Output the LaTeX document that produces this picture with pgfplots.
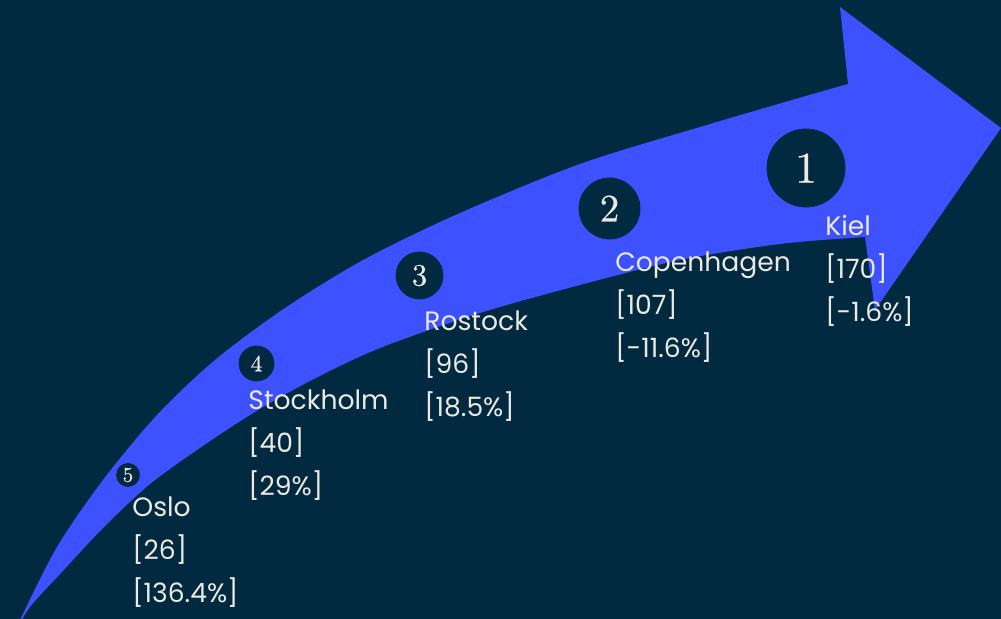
\documentclass[border=0pt]{standalone}
\usepackage{fontspec}
\usepackage{pgfplots}
\pgfplotsset{compat=1.18}
\newfontfamily\pop{Poppins}
\newfontfamily\lmd{lmroman10-regular.otf}[FakeBold=0.4]
\definecolor{bg}{RGB}{1,42,65}
\definecolor{arrowblue}{RGB}{61,81,255}
\definecolor{txt}{RGB}{236,233,226}

% circle centres (pixel coords), radius in pt, digit size
\pgfplotstableread{
x     y     r      fs    rank
128   475   5.75   10.5  5
256.5 363.5 8.75   11.5  4
419.5 275.5 11.75  15.5  3
609.5 208.5 15.25  19.5  2
806   168   19.5   22    1
}\ranks

\begin{document}
\begin{tikzpicture}
\begin{axis}[
  width=500.5pt, height=309.5pt,
  scale only axis,
  hide axis,
  xmin=0, xmax=1001,
  ymin=0, ymax=619,
  y dir=reverse,
]
% background
\addplot[fill=bg, draw=none] coordinates {(0,0)(1001,0)(1001,619)(0,619)};

% arrow body (outer edge, then inner edge back to the tail)
\addplot[fill=arrowblue, draw=none, smooth, tension=0.5] coordinates {
  (14,634)(21,618)(57,547)(103,480)(157,415)(215,360)(285,308)(365,259)
  (460,213)(580,164)(700,127)(848,84)(885,76)
  (895,236)(865,237)(780,244)(680,260)(580,285)(480,313)(380,348)
  (310,381)(250,415)(197,450)(150,484)(105,526)(60,574)(30,607)(14,634)
};
% arrow head
\addplot[fill=arrowblue, draw=none] coordinates {
  (848,84)(840,7)(1001,128)(875,310)(865,237)
};

% rank circles
\addplot[scatter, only marks, mark=*,
  point meta=\thisrow{r},
  visualization depends on={\thisrow{r}\as\rad},
  scatter/use mapped color={draw=bg, fill=bg},
  scatter/@pre marker code/.append style={/tikz/mark size=\rad pt},
] table[x=x, y=y] {\ranks};

% rank numbers
\addplot[only marks, mark=none,
  nodes near coords,
  point meta=explicit symbolic,
  visualization depends on={\thisrow{fs}\as\fsz},
  every node near coord/.style={anchor=center, inner sep=0pt, text=txt,
    font=\lmd\fontsize{\fsz}{\fsz}\selectfont},
] table[x=x, y=y, meta=rank] {\ranks};

% labels
\begin{scope}[every node/.style={anchor=north west, align=left, inner sep=0pt,
    text=txt, font=\pop\fontsize{13.3}{21.5}\selectfont}]
\node at (axis cs:132,496) {Oslo\\{[}26{]}\\{[}136.4\%{]}};
\node at (axis cs:248,389) {Stockholm\\{[}40{]}\\{[}29\%{]}};
\node at (axis cs:424,310) {Rostock\\{[}96{]}\\{[}18.5\%{]}};
\node at (axis cs:615,251) {Copenhagen\\{[}107{]}\\{[}-11.6\%{]}};
\node at (axis cs:825,215) {Kiel\\{[}170{]}\\{[}-1.6\%{]}};
\end{scope}
\end{axis}
\end{tikzpicture}
\end{document}
